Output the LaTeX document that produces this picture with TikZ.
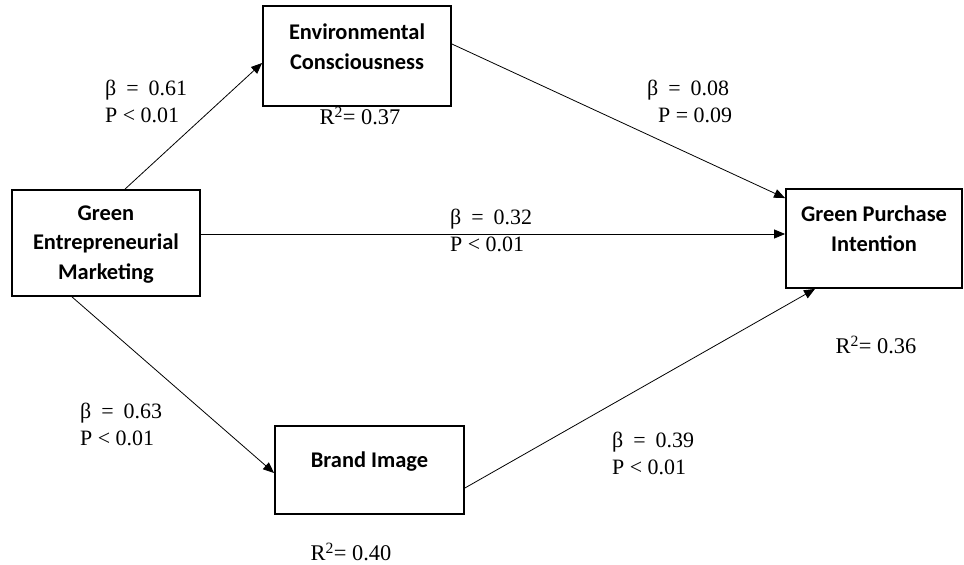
\documentclass[tikz,border=0pt]{standalone}
\usepackage{fontspec}
\setmainfont{Liberation Serif}
\newfontfamily\boxfont{Carlito}
\usetikzlibrary{arrows.meta}
\newcommand{\eqs}{\hspace{10bp}=\hspace{10bp}}
\tikzset{
  boxnode/.style={draw, line width=1.8bp, minimum width=#1, inner sep=0pt},
  boxtext/.style={font=\boxfont\bfseries\fontsize{22.5}{30}\selectfont, align=center, inner sep=0pt},
  stat/.style={font=\fontsize{22}{27}\selectfont, align=left, inner sep=0pt, anchor=west},
  rsq/.style={font=\fontsize{22.5}{27}\selectfont, inner sep=0pt},
  conn/.style={line width=0.8bp, -{Triangle[length=11bp,width=9bp]}}
}
\begin{document}
\begin{tikzpicture}[x=1bp,y=-1bp]
\useasboundingbox (0,0) rectangle (964,565);
% boxes
\node[boxnode=188bp, minimum height=100bp] (ec) at (357,56) {};
\node[boxnode=188bp, minimum height=106bp] (gem) at (106,243) {};
\node[boxnode=176bp, minimum height=99bp] (gpi) at (874,238.5) {};
\node[boxnode=189bp, minimum height=88bp] (bi) at (369.5,470) {};
% box texts
\node[boxtext] (ect) at (357,47) {Environmental\\Consciousness};
\node[boxtext] (gemt) at (106,244.5) {Green\\Entrepreneurial\\Marketing};
\node[boxtext] (gpit) at (874,228.5) {Green Purchase\\Intention};
\node[boxtext] (bit) at (369.5,462) {Brand Image};
% connectors
\draw[conn] ([xshift=19bp]gem.north) -- ([yshift=-7bp]ec.west);
\draw[conn] ([yshift=12bp]ec.east) -- ([yshift=-10bp]gpi.north west);
\draw[conn] ([yshift=9bp]gem.east) -- ([yshift=9bp]gem.east -| gpi.west);
\draw[conn] ([xshift=-34bp]gem.south) -- ([yshift=-3bp]bi.west);
\draw[conn] ([yshift=-18bp]bi.east) -- ([xshift=-59bp]gpi.south);
% statistics
\node[stat] (s1) at (105,101) {β\eqs0.61\\P < 0.01};
\node[stat] (s2) at (647,101) {β\eqs0.08\\\hspace{11bp}P = 0.09};
\node[stat] (s3) at (450,230) {β\eqs0.32\\P < 0.01};
\node[stat] (s4) at (80,424) {β\eqs0.63\\P < 0.01};
\node[stat] (s5) at (612,453) {β\eqs0.39\\P < 0.01};
\node[rsq] (r1) at (360,116) {R\textsuperscript{2}= 0.37};
\node[rsq] (r2) at (876,345) {R\textsuperscript{2}= 0.36};
\node[rsq] (r3) at (351,552) {R\textsuperscript{2}= 0.40};
\end{tikzpicture}
\end{document}
